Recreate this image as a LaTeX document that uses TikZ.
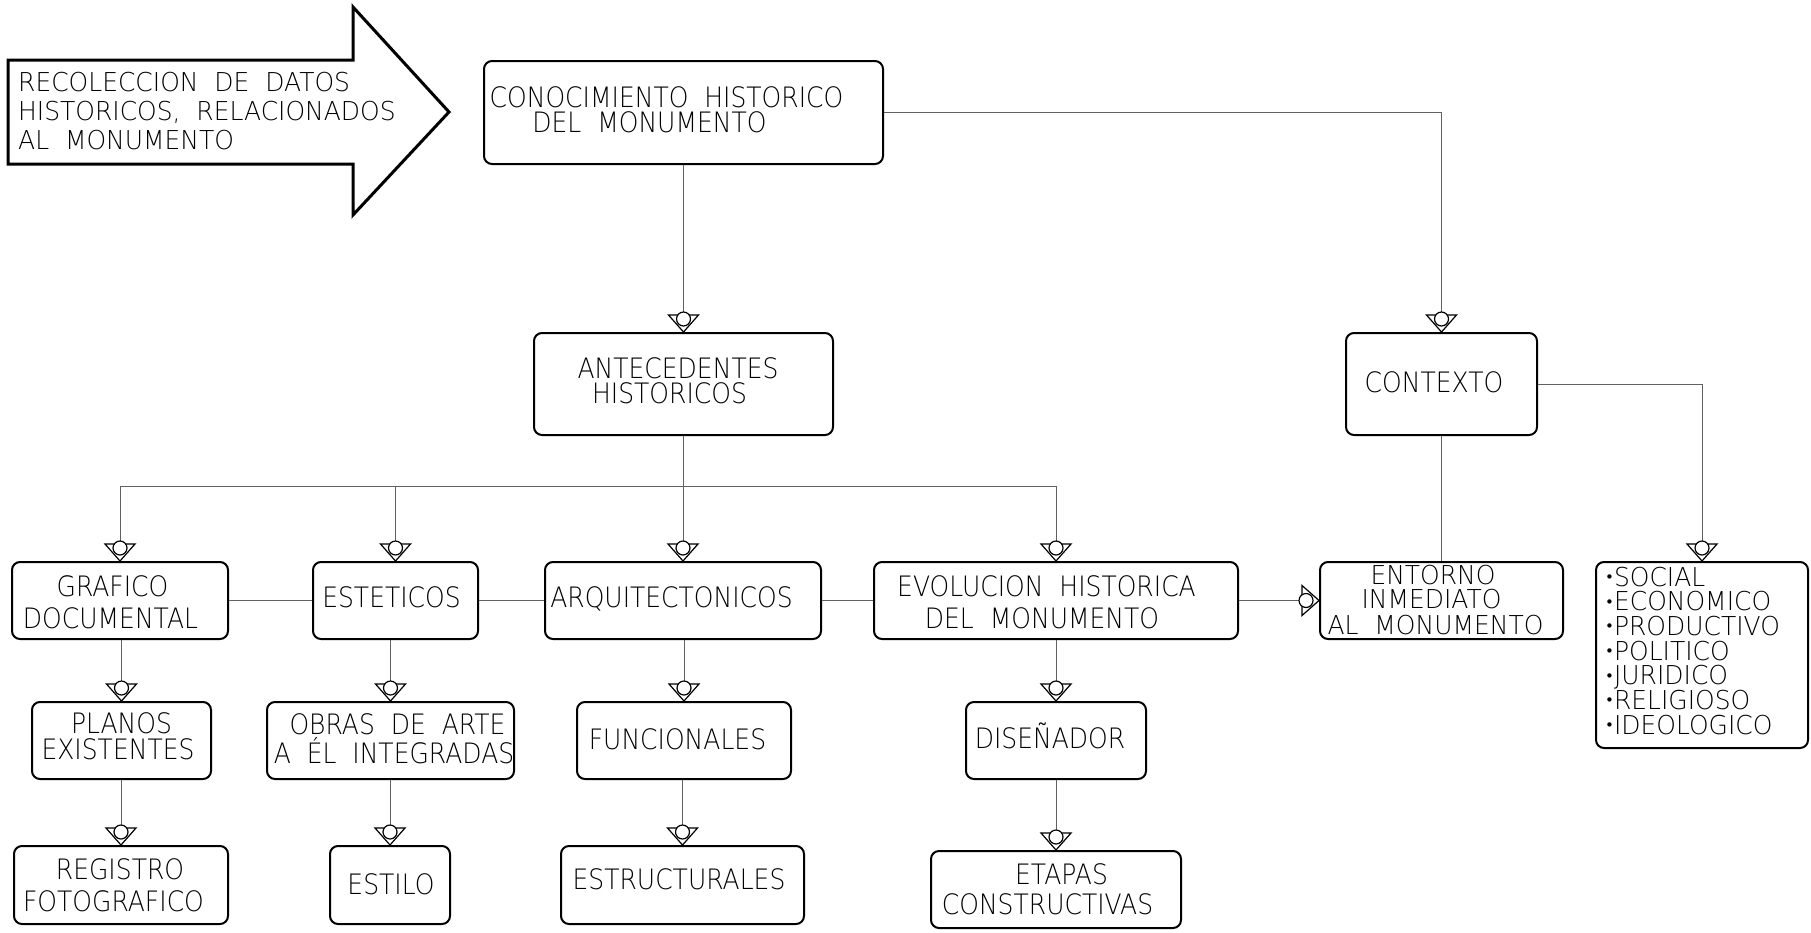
\documentclass[tikz,border=0pt]{standalone}
\usepackage{fontspec}
\setmainfont{DejaVu Sans}[UprightFont=* ExtraLight,BoldFont=* ExtraLight,ItalicFont=* ExtraLight,BoldItalicFont=* ExtraLight,FakeStretch=0.89,WordSpace=2]
\newfontfamily\smallfam{DejaVu Sans}[UprightFont=* ExtraLight,BoldFont=* ExtraLight,ItalicFont=* ExtraLight,BoldItalicFont=* ExtraLight,FakeStretch=0.96,WordSpace=2]
\newfontfamily\bulfam{DejaVu Sans}
\newcommand\lineT[4]{\node[lbl] (#1) at (#2,#3) {#4};}
\newcommand\lineS[4]{\node[slbl] (#1) at (#2,#3) {#4};}
\newcommand\lineL[4]{\node[slbl,anchor=base west] (#1) at (#2,#3) {#4};}
\newcommand\bul{{\bulfam\fontsize{15}{15}\selectfont\raisebox{3.5pt}{•}}}
\tikzset{
  box/.style={draw=black, line width=2pt, rounded corners=8pt, inner sep=0pt},
  conn/.style={draw=black!62, line width=1pt},
  lbl/.style={inner sep=0pt, anchor=base, text=black, text height=20.5pt, text depth=0pt, font=\fontsize{28.1}{30}\selectfont},
  slbl/.style={inner sep=0pt, anchor=base, text=black, text height=19pt, text depth=0pt, font=\smallfam\fontsize{26}{28}\selectfont},
  cadtip/.pic={
    \draw[line width=1.2pt, fill=white, line join=miter] (-15,-17) -- (15,-17) -- (0,0) -- cycle;
    \draw[line width=1.2pt, fill=white] (0,-13) circle[radius=7pt];
  }
}
\begin{document}
\begin{tikzpicture}[x=1pt,y=-1pt]
\useasboundingbox (0,0) rectangle (1811,932);
% big arrow
\draw[line width=3pt, line join=miter] (8,60) -- (353,60) -- (353,7) -- (449,112) -- (353,215) -- (353,164) -- (8,164) -- cycle;
% boxes
\node[box, minimum width=399pt, minimum height=103pt] (cono) at (683.5,112.5) {};
\node[box, minimum width=299pt, minimum height=102pt] (ante) at (683.5,384) {};
\node[box, minimum width=191pt, minimum height=102pt] (ctx) at (1441.5,384) {};
\node[box, minimum width=216pt, minimum height=77pt] (graf) at (120,600.5) {};
\node[box, minimum width=165pt, minimum height=77pt] (este) at (395.5,600.5) {};
\node[box, minimum width=276pt, minimum height=77pt] (arq) at (683,600.5) {};
\node[box, minimum width=364pt, minimum height=77pt] (evol) at (1056,600.5) {};
\node[box, minimum width=243pt, minimum height=77pt] (ento) at (1441.5,600.5) {};
\node[box, minimum width=212pt, minimum height=186pt] (soc) at (1702,655) {};
\node[box, minimum width=179pt, minimum height=77pt] (plan) at (121.5,740.5) {};
\node[box, minimum width=247pt, minimum height=77pt] (obra) at (390.5,740.5) {};
\node[box, minimum width=214pt, minimum height=77pt] (func) at (684,740.5) {};
\node[box, minimum width=180pt, minimum height=77pt] (dis) at (1056,740.5) {};
\node[box, minimum width=214pt, minimum height=78pt] (reg) at (121,885) {};
\node[box, minimum width=120pt, minimum height=78pt] (esti) at (390,885) {};
\node[box, minimum width=243pt, minimum height=78pt] (estr) at (682.5,885) {};
\node[box, minimum width=250pt, minimum height=77pt] (etap) at (1056,889.5) {};
% connectors
\coordinate (busL) at (120,486);
\coordinate (busR) at (1056,486);
\draw[conn] (cono.south) -- (ante.north);
\draw[conn] (cono.east) -| (ctx.north);
\draw[conn] (ctx.east) -| (soc.north);
\draw[conn] (ctx.south) -- (ento.north);
\draw[conn] (ante.south) -- (ante.south |- busL);
\draw[conn] (busL) -- (busR);
\draw[conn] (graf.north |- busL) -- (graf.north);
\draw[conn] (este.north |- busL) -- (este.north);
\draw[conn] (arq.north |- busL) -- (arq.north);
\draw[conn] (evol.north |- busL) -- (evol.north);
\draw[conn] (graf.east) -- (este.west);
\draw[conn] (este.east) -- (arq.west);
\draw[conn] (arq.east) -- (evol.west);
\draw[conn] (evol.east) -- (ento.west);
\draw[conn] (plan.north |- graf.south) -- (plan.north);
\draw[conn] (reg.north |- plan.south) -- (reg.north);
\draw[conn] (obra.north |- este.south) -- (obra.north);
\draw[conn] (esti.north |- obra.south) -- (esti.north);
\draw[conn] (func.north |- arq.south) -- (func.north);
\draw[conn] (estr.north |- func.south) -- (estr.north);
\draw[conn] (dis.north |- evol.south) -- (dis.north);
\draw[conn] (etap.north |- dis.south) -- (etap.north);
% arrow tips
\pic at (ante.north) {cadtip};
\pic at (ctx.north) {cadtip};
\pic at (soc.north) {cadtip};
\pic at (graf.north) {cadtip};
\pic at (este.north) {cadtip};
\pic at (arq.north) {cadtip};
\pic at (evol.north) {cadtip};
\pic[rotate=90] at (ento.west) {cadtip};
\pic at (plan.north) {cadtip};
\pic at (reg.north) {cadtip};
\pic at (obra.north) {cadtip};
\pic at (esti.north) {cadtip};
\pic at (func.north) {cadtip};
\pic at (estr.north) {cadtip};
\pic at (dis.north) {cadtip};
\pic at (etap.north) {cadtip};
% texts
\lineL{a1}{18}{91.7}{RECOLECCION DE DATOS}
\lineL{a2}{18}{120.7}{HISTORICOS, RELACIONADOS}
\lineL{a3}{18}{149.5}{AL MONUMENTO}
\lineT{c1}{666.5}{107.3}{CONOCIMIENTO HISTORICO}
\lineT{c2}{649.5}{132.7}{DEL MONUMENTO}
\lineT{h1}{678}{378}{ANTECEDENTES}
\lineT{h2}{669.5}{403}{HISTORICOS}
\lineT{x1}{1434}{392}{CONTEXTO}
\lineT{g1}{112.5}{596.7}{GRAFICO}
\lineT{g2}{110.5}{628.3}{DOCUMENTAL}
\lineT{s1}{391.5}{607}{ESTETICOS}
\lineT{q1}{671.5}{607}{ARQUITECTONICOS}
\lineT{e1}{1046.5}{596}{EVOLUCION HISTORICA}
\lineT{e2}{1042}{628}{DEL MONUMENTO}
\lineS{n1}{1433}{584}{ENTORNO}
\lineS{n2}{1431.5}{608.3}{INMEDIATO}
\lineS{n3}{1435.5}{634}{AL MONUMENTO}
\lineL{l1}{1605}{586}{\bul SOCIAL}
\lineL{l2}{1605}{610.7}{\bul ECONOMICO}
\lineL{l3}{1605}{635.3}{\bul PRODUCTIVO}
\lineL{l4}{1605}{660}{\bul POLITICO}
\lineL{l5}{1605}{684.7}{\bul JURIDICO}
\lineL{l6}{1605}{709.3}{\bul RELIGIOSO}
\lineL{l7}{1605}{734}{\bul IDEOLOGICO}
\lineT{p1}{121.5}{733}{PLANOS}
\lineT{p2}{118}{759}{EXISTENTES}
\lineT{o1}{397.5}{734}{OBRAS DE ARTE}
\lineT{o2}{394}{763}{A ÉL INTEGRADAS}
\lineT{f1}{677.5}{749}{FUNCIONALES}
\lineT{d1}{1050}{748}{DISEÑADOR}
\lineT{r1}{120}{879}{REGISTRO}
\lineT{r2}{113.5}{911}{FOTOGRAFICO}
\lineT{y1}{391}{894}{ESTILO}
\lineT{u1}{679}{889}{ESTRUCTURALES}
\lineT{t1}{1061.5}{884}{ETAPAS}
\lineT{t2}{1047.5}{914}{CONSTRUCTIVAS}
\end{tikzpicture}
\end{document}
